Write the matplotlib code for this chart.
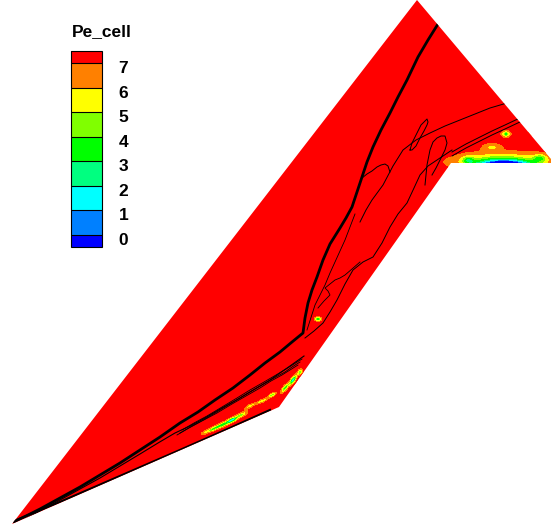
import numpy as np
import matplotlib
matplotlib.use("Agg")
import matplotlib.pyplot as plt
from matplotlib.patches import Polygon
from matplotlib.transforms import ScaledTranslation

# domain outline (image-like coords: x right, y down)
domain_x = [12, 279, 451, 551, 551, 417]
domain_y = [524, 407, 163, 163, 159, 0]

# low Pe_cell pockets: centre, half-length along / across, angle (deg), depth below 7.4
blob_x = [505, 502, 468, 492, 506, 533, 540, 318,
          222, 241, 206, 262, 285, 293, 272, 250, 300, 232, 213]
blob_y = [164, 162, 160, 147, 134, 131, 158, 319,
          425, 415, 432, 401, 388, 380, 395, 406, 372, 420, 429]
blob_a = [24, 38, 6, 9, 4, 3, 7, 3,
          9, 6, 5, 6, 5, 5, 4, 5, 3, 5, 4]
blob_b = [4, 8, 4, 4, 3, 3, 4, 2.5,
          2.3, 2.3, 2.3, 2.0, 2.3, 2.3, 2.0, 2.0, 2.3, 2.3, 2.0]
blob_ang = [0, 0, 0, 0, 0, 0, 0, 0,
            -24, -24, -24, -24, -50, -55, -24, -24, -55, -24, -24]
blob_depth = [6.6, 4.5, 3.0, 1.6, 4.5, 3.0, 3.0, 4.5,
              5.0, 3.5, 2.0, 2.5, 4.5, 6.5, 3.5, 2.5, 4.0, 6.0, 3.0]

levels = [-0.5, 0, 1, 2, 3, 4, 5, 6, 7, 7.5]
level_colors = ["#0000ff", "#0080ff", "#00ffff", "#00ff80", "#00ff00",
                "#80ff00", "#ffff00", "#ff8000", "#ff0000"]
tick_values = [0, 1, 2, 3, 4, 5, 6, 7]

# contour lines drawn over the flood (x list, y list, width)
shock_x = [438, 428, 418, 407, 398, 390, 381, 373, 367, 362, 357, 352, 346, 340, 335, 330,
           323, 317, 312, 308, 305, 303, 292, 280, 265, 250, 233, 215, 198, 180, 160, 140,
           120, 100, 80, 60, 40, 14]
shock_y = [24, 40, 57, 80, 97, 113, 130, 147, 162, 177, 192, 207, 218, 228, 236, 244,
           260, 277, 290, 303, 318, 333, 342, 352, 363, 375, 388, 400, 412, 423, 437, 450,
           463, 475, 487, 498, 509, 522]
wall_x = [14, 60, 120, 180, 230, 270]
wall_y = [521, 502, 476, 450, 428, 410]
lines = [
    ([305, 314, 323, 330, 337, 345, 353, 363, 373, 382, 390, 398, 407, 414, 420, 428, 437, 452],
     [338, 331, 323, 312, 300, 284, 270, 262, 257, 243, 227, 214, 203, 188, 175, 166, 160, 150], 0.7),
    ([360, 366, 372, 383, 393, 403, 416, 430, 445, 460, 475, 490, 507],
     [222, 210, 200, 185, 166, 150, 140, 133, 126, 120, 114, 108, 103], 0.7),
    ([452, 466, 480, 492, 505, 522], [156, 148, 141, 135, 129, 121], 0.7),
    ([452, 466, 480, 492, 505, 522], [152, 144, 137, 131, 125, 117], 0.7),
    ([410, 412, 415, 418, 421, 425, 427, 428, 427, 424, 420, 416, 412, 410],
     [150, 143, 137, 131, 125, 121, 119, 122, 125, 131, 138, 146, 150, 150], 0.7),
    ([362, 367, 372, 377, 381, 385, 388, 390], [178, 174, 171, 167, 165, 164, 166, 172], 0.7),
    ([425, 427, 430, 433, 437, 441, 445, 447, 445, 440, 436, 432],
     [185, 165, 150, 142, 138, 136, 136, 143, 150, 160, 168, 175], 0.7),
    ([355, 350, 345, 340, 335, 330, 325, 320, 315, 307],
     [214, 227, 240, 251, 262, 273, 285, 295, 305, 330], 0.6),
    ([304, 297, 290, 280, 270, 255, 240, 222, 205, 190, 175, 158, 140, 120, 100, 80, 60, 40, 20],
     [356, 361, 366, 373, 380, 389, 398, 408, 418, 426, 433, 443, 454, 466, 478, 489, 500, 511, 522], 0.8),
    ([302, 294, 286, 276, 264, 250, 237, 222, 207, 194, 182],
     [359, 364, 369, 375, 382, 390, 398, 407, 416, 423, 430], 0.6),
    ([300, 292, 285, 274, 262, 248, 235, 220, 205, 192, 180],
     [362, 367, 372, 378, 385, 393, 401, 410, 419, 426, 433], 0.6),
    ([298, 290, 282, 271, 260, 246, 232, 217, 202, 189, 177],
     [365, 370, 375, 381, 388, 396, 404, 413, 421, 428, 435], 0.6),
    ([318, 324, 330, 328, 325, 330, 335, 340, 345, 352, 360],
     [308, 301, 295, 291, 288, 284, 280, 278, 275, 269, 262], 0.6),
]

# scalar field on a pixel grid, built from the pockets above
gx = np.arange(0, 552, 1.0)
gy = np.arange(0, 532, 1.0)
X, Y = np.meshgrid(gx, gy)
Z = np.full(X.shape, 7.4)
for cx, cy, a, b, ang, d in zip(blob_x, blob_y, blob_a, blob_b, blob_ang, blob_depth):
    t = np.deg2rad(ang)
    u = (X - cx) * np.cos(t) + (Y - cy) * np.sin(t)
    v = -(X - cx) * np.sin(t) + (Y - cy) * np.cos(t)
    Z -= d * np.exp(-(u / a) ** 2 - (v / b) ** 2)
Z = np.clip(Z, -0.4, 7.4)

fig = plt.figure(figsize=(5.51, 5.31), dpi=100)
ax = fig.add_axes([0, 0, 1, 1])
ax.set_xlim(0, 551)
ax.set_ylim(531, 0)
ax.axis("off")

outline = Polygon(np.column_stack([domain_x, domain_y]), closed=True,
                  facecolor="none", edgecolor="none")
ax.add_patch(outline)
cf = ax.contourf(X, Y, Z, levels=levels, colors=level_colors)
cf.set_clip_path(outline)

for xs, ys, lw in lines:
    ln, = ax.plot(xs, ys, color="black", lw=lw)
    ln.set_clip_path(outline)
ln, = ax.plot(shock_x, shock_y, color="black", lw=2.0, solid_capstyle="round")
ln.set_clip_path(outline)
ln, = ax.plot(wall_x, wall_y, color="black", lw=1.6)
ln.set_clip_path(outline)

# legend bar
cax = fig.add_axes([71 / 551, 1 - 247 / 531, 31 / 551, 196 / 531])
cb = fig.colorbar(cf, cax=cax, spacing="proportional", drawedges=True)
cb.outline.set_linewidth(0.8)
cb.dividers.set_linewidth(0.8)
cb.set_ticks(tick_values)
cb.set_ticklabels([str(t) for t in tick_values])
cax.tick_params(length=0, pad=12)
for lab in cax.get_yticklabels():
    lab.set_fontfamily("Liberation Sans")
    lab.set_fontsize(12.5)
    lab.set_fontweight("bold")
    lab.set_transform(lab.get_transform() + ScaledTranslation(0, -4 / 100, fig.dpi_scale_trans))

fig.text(72 / 551, 1 - 32 / 531, "Pe_cell", ha="left", va="center",
         fontfamily="Liberation Sans", fontsize=12.5, fontweight="bold")

fig.savefig("out.png", dpi=100)
